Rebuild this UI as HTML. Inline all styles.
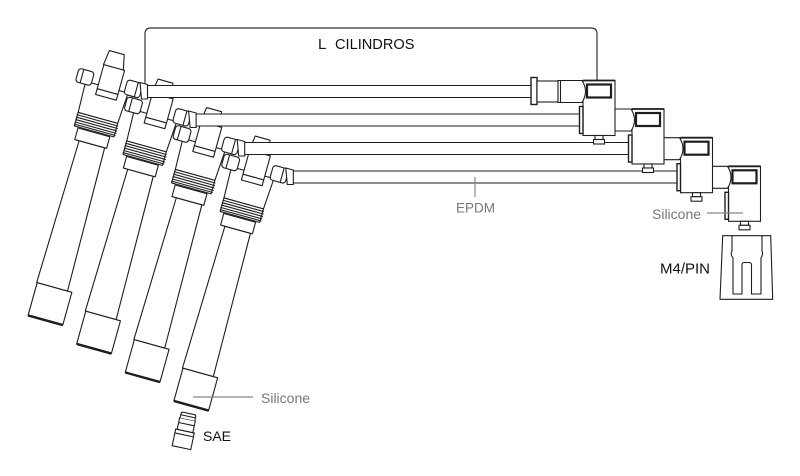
<!DOCTYPE html>
<html><head><meta charset="utf-8"><style>html,body{margin:0;padding:0;background:#fff}svg{display:block}</style></head>
<body>
<svg width="800" height="476" viewBox="0 0 800 476" xmlns="http://www.w3.org/2000/svg">
<defs>
<g id="boot" stroke="#1e1e1e" stroke-width="1.1" fill="#fff" stroke-linejoin="round">
 <polygon points="-18.5,0 13.5,0 11,-148 -15.5,-148"/>
 <rect x="-18" y="0" width="36" height="34"/>
 <line x1="-18" y1="34" x2="18" y2="34" stroke-width="2.4"/>
 <rect x="-20" y="-160" width="33" height="12"/>
 <polygon points="-24,-175 17,-175 19,-207 -25,-207"/>
 <rect x="-24" y="-175" width="41" height="14"/>
 <path d="M-24.8,-172.5 H18.2 M-24.8,-170 H18.6 M-24.8,-167.5 H18.6 M-24.8,-165 H18.6 M-24.8,-162.8 H18.2" fill="none"/>
 <rect x="-35" y="-218" width="16" height="14" rx="3"/>
 <line x1="-30" y1="-218" x2="-30" y2="-204"/>
 <rect x="15" y="-220" width="16" height="15" rx="3"/>
 <line x1="26" y1="-220" x2="26" y2="-205"/>
 <rect x="-12" y="-228" width="21.5" height="31"/>
 <line x1="-12" y1="-203" x2="9.5" y2="-203"/>
 <polygon points="-12.4,-228 8.2,-228 5,-243 -10.4,-243"/>
</g>
<g id="cable" stroke="#1e1e1e" stroke-width="1.1" fill="#fff">
 <rect x="0" y="0" width="383.5" height="12" stroke="none"/>
 <line x1="0" y1="0" x2="383.5" y2="0"/>
 <line x1="0" y1="12" x2="383.5" y2="12"/>
 <polygon points="-7.5,-3 0,-1 0,13.5 -6,13.5"/>
</g>
<g id="conn" stroke="#1e1e1e" stroke-width="1.1" fill="#fff">
 <rect x="0" y="0" width="32" height="55"/>
 <line x1="0" y1="0" x2="32" y2="0" stroke-width="1.8"/>
 <path d="M-17,0 H-1 Q6,11 -1,22 H-17"/>
 <rect x="4" y="4" width="24" height="13" stroke-width="2.2"/>
 <rect x="-3.5" y="26" width="3.5" height="27" stroke-width="1.4"/>
 <rect x="12" y="55" width="8" height="4"/>
 <rect x="10.5" y="59" width="11" height="4.5"/>
</g>
</defs>

<!-- bracket -->
<path d="M145,85.5 V34 Q145,28 151,28 H591 Q597,28 597,34 V80.5" fill="none" stroke="#333" stroke-width="1.2"/>
<text x="318" y="49" font-family="Liberation Sans, Arial, sans-serif" font-size="15" fill="#111">L</text>
<text x="335" y="49" font-family="Liberation Sans, Arial, sans-serif" font-size="14.6" fill="#111">CILINDROS</text>

<!-- boots -->
<use href="#boot" transform="translate(200.3,373) rotate(15.5)"/>
<use href="#boot" transform="translate(151.7,344.5) rotate(15.5)"/>
<use href="#boot" transform="translate(103.1,316) rotate(15.5)"/>
<use href="#boot" transform="translate(54.5,287.5) rotate(15.5)"/>

<!-- cables -->
<use href="#cable" transform="translate(147.5,85.5)"/>
<use href="#cable" transform="translate(196.1,114)"/>
<use href="#cable" transform="translate(244.7,142.5)"/>
<use href="#cable" transform="translate(293.3,171)"/>

<!-- connectors -->
<use href="#conn" transform="translate(728.5,166.3)"/>
<use href="#conn" transform="translate(680.5,137.7)"/>
<use href="#conn" transform="translate(632,109)"/>
<g transform="translate(583,80.5)" stroke="#1e1e1e" stroke-width="1.1" fill="#fff">
 <rect x="0" y="0" width="32" height="55"/>
 <line x1="0" y1="0" x2="32" y2="0" stroke-width="1.8"/>
 <rect x="-52" y="-3" width="6" height="27" stroke-width="1.4"/>
 <rect x="-46" y="0.5" width="21" height="21"/>
 <path d="M-25,0 H-1 Q6,11 -1,22 H-25 Z"/>
 <line x1="-22.5" y1="0" x2="-22.5" y2="22"/>
 <rect x="4" y="4" width="24" height="13" stroke-width="2.2"/>
 <rect x="-3.5" y="26" width="3.5" height="27" stroke-width="1.4"/>
 <rect x="12" y="55" width="8" height="4"/>
 <rect x="10.5" y="59" width="11" height="4.5"/>
</g>

<!-- EPDM label -->
<line x1="475" y1="177" x2="475" y2="197" stroke="#888" stroke-width="1.2"/>
<text x="456" y="212.7" font-family="Liberation Sans, Arial, sans-serif" font-size="13.5" fill="#777">EPDM</text>

<!-- right silicone label -->
<line x1="707" y1="213" x2="743" y2="213" stroke="#888" stroke-width="1.2"/>
<text x="652" y="219" font-family="Liberation Sans, Arial, sans-serif" font-size="14" fill="#777">Silicone</text>

<!-- M4/PIN terminal -->
<g stroke="#1e1e1e" stroke-width="1.1" fill="#fff">
 <polygon points="722.7,235.7 770.7,235.7 772.7,299.3 720,299.3"/>
 <path d="M732,236 V251 Q730,254.5 733,258 V294 H742 V265 Q742,262.5 744.5,262.5 H749 Q751.5,262.5 751.5,265 V294 H761 V258 Q763.5,254.5 762,251 V236" fill="none"/>
</g>
<text x="660" y="273.5" font-family="Liberation Sans, Arial, sans-serif" font-size="15" fill="#111">M4/PIN</text>

<!-- bottom silicone label -->
<line x1="193" y1="397" x2="253" y2="397" stroke="#888" stroke-width="1.2"/>
<text x="261" y="403" font-family="Liberation Sans, Arial, sans-serif" font-size="14" fill="#777">Silicone</text>

<!-- SAE terminal -->
<g transform="translate(185,431) rotate(12)" stroke="#1e1e1e" stroke-width="1.1" fill="#fff">
 <rect x="-9.5" y="0" width="19" height="17"/>
 <line x1="-9.5" y1="4" x2="9.5" y2="4"/>
 <rect x="-8" y="-12" width="16" height="12"/>
 <line x1="-8" y1="-7" x2="8" y2="-7"/>
 <path d="M-7.5,-12 V-16 Q-7.5,-18 -5.5,-18 H5.5 Q7.5,-18 7.5,-16 V-12"/>
 <line x1="-7.5" y1="-15" x2="7.5" y2="-15"/>
</g>
<text x="203" y="441" font-family="Liberation Sans, Arial, sans-serif" font-size="14" fill="#111">SAE</text>
</svg>
</body></html>
